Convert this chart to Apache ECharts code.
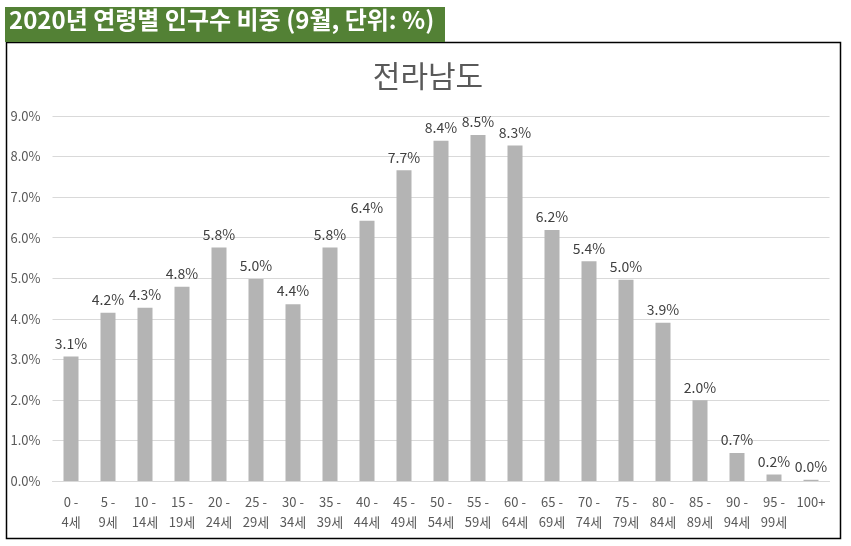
<!DOCTYPE html>
<html>
<head>
<meta charset="utf-8">
<script src="https://cdn.jsdelivr.net/npm/echarts@6/dist/echarts.min.js"></script>
<style>
    html, body { margin: 0; padding: 0; background: #ffffff; }
    #main { width: 851px; height: 546px; }
</style>
</head>
<body>
<div id="main"></div>
<script>
// 데이터
var ages = ['0 -\n4세', '5 -\n9세', '10 -\n14세', '15 -\n19세', '20 -\n24세', '25 -\n29세', '30 -\n34세',
    '35 -\n39세', '40 -\n44세', '45 -\n49세', '50 -\n54세', '55 -\n59세', '60 -\n64세', '65 -\n69세',
    '70 -\n74세', '75 -\n79세', '80 -\n84세', '85 -\n89세', '90 -\n94세', '95 -\n99세', '100+'];
var shares = [3.07, 4.15, 4.27, 4.79, 5.76, 4.98, 4.36, 5.76, 6.42, 7.66, 8.39, 8.53, 8.27, 6.19,
    5.42, 4.96, 3.90, 1.99, 0.69, 0.16, 0.03];
var yTicks = [0, 1, 2, 3, 4, 5, 6, 7, 8, 9];
var header = '2020년 연령별 인구수 비중 (9월, 단위: %)';
var region = '전라남도';

var font = '"Noto Sans CJK KR", "Noto Sans", sans-serif';

var myChart = echarts.init(document.getElementById('main'));
var option = {
    animation: false,
    textStyle: { fontFamily: font },
    title: {
        text: region,
        left: 423,
        textAlign: 'center',
        top: 56,
        textStyle: {
            fontFamily: font,
            fontSize: 30,
            fontWeight: 'normal',
            color: '#595959'
        }
    },
    graphic: [
        {   // 차트 테두리
            type: 'rect',
            shape: { x: 6.5, y: 42.5, width: 834, height: 496 },
            style: { fill: 'none', stroke: '#000000', lineWidth: 1.5 }
        },
        {   // 상단 녹색 머리글
            type: 'rect',
            shape: { x: 5, y: 7, width: 440, height: 35 },
            style: { fill: '#538135' }
        },
        {
            type: 'text',
            left: 9,
            top: 8,
            style: {
                text: header,
                fill: '#ffffff',
                font: 'bold 24px ' + font
            }
        }
    ],
    grid: {
        left: 52.5,
        right: 21.5,
        top: 116,
        bottom: 65,
        containLabel: false
    },
    xAxis: {
        type: 'category',
        data: ages,
        axisTick: { show: false },
        axisLine: { lineStyle: { color: '#d9d9d9', width: 1 } },
        axisLabel: {
            interval: 0,
            margin: 11,
            fontSize: 13,
            lineHeight: 20,
            color: '#595959',
            fontFamily: font
        }
    },
    yAxis: {
        type: 'value',
        min: 0,
        max: 9,
        interval: 1,
        axisLine: { show: false },
        axisTick: { show: false },
        axisLabel: {
            margin: 12,
            fontSize: 13,
            color: '#595959',
            fontFamily: font,
            formatter: function (v) { return v.toFixed(1) + '%'; }
        },
        splitLine: { lineStyle: { color: '#d9d9d9', width: 1 } }
    },
    series: [
        {
            name: region,
            type: 'bar',
            barWidth: 15,
            data: shares,
            itemStyle: { color: '#b4b4b4' },
            label: {
                show: true,
                position: 'top',
                distance: 6,
                fontSize: 14,
                color: '#404040',
                fontFamily: font,
                formatter: function (p) { return p.value.toFixed(1) + '%'; }
            }
        }
    ]
};
myChart.setOption(option, true);
window.onresize = function () {
    myChart.resize();
};
</script>
</body>
</html>
